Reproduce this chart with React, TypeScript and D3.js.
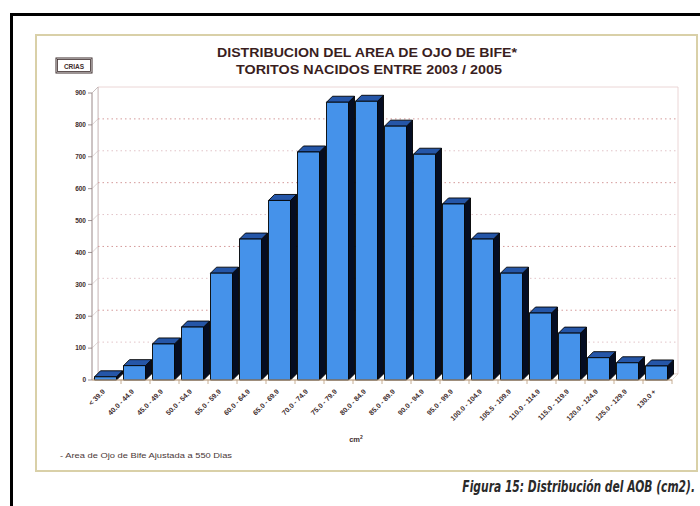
import React from "react";
import * as d3 from "d3";

const categories = [
  "< 39.9", "40.0 - 44.9", "45.0 - 49.9", "50.0 - 54.9", "55.0 - 59.9",
  "60.0 - 64.9", "65.0 - 69.9", "70.0 - 74.9", "75.0 - 79.9", "80.0 - 84.9",
  "85.0 - 89.9", "90.0 - 94.9", "95.0 - 99.9", "100.0 - 104.9", "105.5 - 109.9",
  "110.0 - 114.9", "115.0 - 119.9", "120.0 - 124.9", "125.0 - 129.9", "130.0 +",
];
const counts = [10, 45, 113, 166, 335, 442, 563, 715, 871, 874, 796, 708, 552, 442, 335, 210, 147, 70, 54, 44];
const yTicks = [0, 100, 200, 300, 400, 500, 600, 700, 800, 900];

const titleLine1 = "DISTRIBUCION DEL AREA DE OJO DE BIFE*";
const titleLine2 = "TORITOS NACIDOS ENTRE 2003 / 2005";
const yLabel = "CRIAS";
const footnote = "- Area de Ojo de Bife Ajustada a 550 Dias";
const caption = "Figura 15: Distribución del AOB (cm2).";

export default function App() {
  const W = 700, H = 506;
  const x0 = 92, x1 = 672, y0 = 380, yTop = 93;
  const dx = 6, dy = 6;
  const x = d3.scaleBand<string>().domain(categories).range([x0, x1]).padding(0);
  const y = d3.scaleLinear().domain([0, 900]).range([y0, yTop]);
  const bw = x.bandwidth();
  const barW = bw - 7;
  const font = "Liberation Sans, Arial, sans-serif";
  const txt = "#3e2c2c";

  return (
    <div style={{ position: "fixed", left: 0, top: 0 }}>
      <svg width={W} height={H} style={{ display: "block", background: "#fff" }}>
        {/* outer black frame */}
        <path d={`M11.5,${H} L11.5,14.5 L${W},14.5`} fill="none" stroke="#000" strokeWidth={3} />
        {/* tan inner frame */}
        <rect x={36} y={35} width={661} height={436} fill="#fff" stroke="#d9d0a8" strokeWidth={2} />

        {/* titles */}
        <text x={367} y={57} textAnchor="middle" fontFamily={font} fontWeight={700} fontSize={12.5} fill="#3a1e1e" textLength={300} lengthAdjust="spacingAndGlyphs">{titleLine1}</text>
        <text x={369} y={74} textAnchor="middle" fontFamily={font} fontWeight={700} fontSize={12.5} fill="#3a1e1e" textLength={266} lengthAdjust="spacingAndGlyphs">{titleLine2}</text>

        {/* CRIAS box */}
        <rect x={56} y={58} width={36} height={15} fill="#fff" stroke="#3a2a2a" strokeWidth={1} />
        <rect x={57.5} y={59.5} width={33} height={12} fill="none" stroke="#3a2a2a" strokeWidth={0.8} />
        <text x={74} y={68.5} textAnchor="middle" fontFamily={font} fontWeight={700} fontSize={6.5} fill={txt}>{yLabel}</text>

        {/* walls */}
        <polygon points={`${x0 + dx},${yTop - dy} ${x1 + dx},${yTop - dy} ${x1 + dx},${y0 - dy} ${x0 + dx},${y0 - dy}`} fill="#fff" stroke="#e6cccc" strokeWidth={0.8} />
        <polygon points={`${x0},${y0} ${x0},${yTop} ${x0 + dx},${yTop - dy} ${x0 + dx},${y0 - dy}`} fill="#fff" stroke="#bdb0b0" strokeWidth={0.8} />
        <polygon points={`${x0},${y0} ${x1},${y0} ${x1 + dx},${y0 - dy} ${x0 + dx},${y0 - dy}`} fill="#fff" stroke="#d8c8b8" strokeWidth={0.6} />

        {/* gridlines */}
        {yTicks.filter((t) => t > 0 && t < 900).map((t) => (
          <g key={"g" + t}>
            <line x1={x0 + dx} x2={x1 + dx} y1={y(t) - dy} y2={y(t) - dy} stroke={t % 200 === 0 ? "#d49a9a" : "#e2c4c8"} strokeWidth={1} strokeDasharray="1.5,3" />
            <line x1={x0} x2={x0 + dx} y1={y(t)} y2={y(t) - dy} stroke="#c8b8b8" strokeWidth={0.6} />
          </g>
        ))}

        {/* y axis */}
        <line x1={x0} x2={x0} y1={yTop} y2={y0} stroke="#a89a9a" strokeWidth={0.8} />
        {yTicks.map((t) => (
          <g key={"t" + t}>
            <line x1={x0 - 4} x2={x0} y1={y(t)} y2={y(t)} stroke="#8a7a7a" strokeWidth={0.8} />
            <text x={x0 - 6} y={y(t) + 2.3} textAnchor="end" fontFamily={font} fontWeight={700} fontSize={6.5} fill={txt}>{t}</text>
          </g>
        ))}

        {/* bars */}
        {categories.map((c, i) => {
          const v = counts[i];
          const bx = (x(c) as number) + 2.5;
          const by = y(v);
          return (
            <g key={c} stroke="#000" strokeWidth={0.9} strokeLinejoin="round">
              <polygon points={`${bx + barW},${by} ${bx + barW + dx},${by - dy} ${bx + barW + dx},${y0 - dy} ${bx + barW},${y0}`} fill="#050d22" />
              <polygon points={`${bx},${by} ${bx + dx},${by - dy} ${bx + barW + dx},${by - dy} ${bx + barW},${by}`} fill="#2556a8" />
              <rect x={bx} y={by} width={barW} height={y0 - by} fill="#4592ea" />
            </g>
          );
        })}

        {/* x axis */}
        <line x1={x0} x2={x1} y1={y0} y2={y0} stroke="#b89a78" strokeWidth={1} />
        {categories.map((c, i) => (
          <line key={"xt" + i} x1={(x(c) as number) + bw} x2={(x(c) as number) + bw} y1={y0} y2={y0 + 4} stroke="#b89a78" strokeWidth={0.8} />
        ))}
        {categories.map((c) => {
          const cx = (x(c) as number) + bw / 2 - 1;
          const cy = y0 + 12;
          return (
            <text key={"xl" + c} x={cx} y={cy} transform={`rotate(-45 ${cx} ${cy})`} textAnchor="end" fontFamily={font} fontWeight={700} fontSize={7} fill={txt}>{c}</text>
          );
        })}

        {/* x axis title */}
        <text x={356} y={442} textAnchor="middle" fontFamily={font} fontWeight={700} fontSize={7.5} fill={txt}>
          cm<tspan dy={-3} fontSize={5}>2</tspan>
        </text>

        {/* footnote */}
        <text x={60} y={458} fontFamily={font} fontSize={7} fill="#4a3838" textLength={172} lengthAdjust="spacingAndGlyphs">{footnote}</text>

        {/* caption */}
        <g transform="translate(695,492) scale(0.67,1)">
          <text x={0} y={0} textAnchor="end" fontFamily="'DejaVu Sans', sans-serif" fontStyle="italic" fontWeight={700} fontSize={16} fill="#2a2a2a">{caption}</text>
        </g>
      </svg>
    </div>
  );
}
